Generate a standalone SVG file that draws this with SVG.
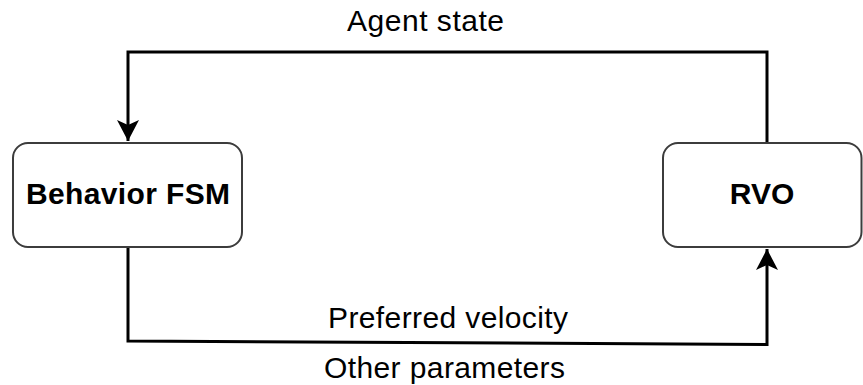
<svg xmlns="http://www.w3.org/2000/svg" width="863" height="385" viewBox="0 0 863 385">
  <defs>
    <style>
      .node rect { fill: #ffffff; stroke: #3c3c3c; stroke-width: 2; }
      .node text { font-family: "Liberation Sans", Arial, sans-serif; font-size: 30px; font-weight: bold; fill: #000; text-anchor: middle; }
      .edge { fill: none; stroke: #000; stroke-width: 3; }
      .label { font-family: "Liberation Sans", Arial, sans-serif; font-size: 30px; fill: #000; text-anchor: middle; }
    </style>
    <marker id="arrow" viewBox="0 0 22 22" refX="21" refY="11" markerWidth="22" markerHeight="22" markerUnits="userSpaceOnUse" orient="auto">
      <path d="M0,0 L21,11 L0,22 L5,11 Z" fill="#000"/>
    </marker>
  </defs>

  <!-- connectors -->
  <g id="connectors">
    <path class="edge" d="M767,143 L767,52 L128,52 L128,141" marker-end="url(#arrow)"/>
    <path class="edge" d="M128,247 L128,341 L767,344.5 L767,249" marker-end="url(#arrow)"/>
    <text class="label" x="425.5" y="31" textLength="157">Agent state</text>
    <text class="label" x="448" y="327.5" textLength="240">Preferred velocity</text>
    <text class="label" x="444.5" y="377.5" textLength="241">Other parameters</text>
  </g>

  <!-- nodes -->
  <g id="behavior-fsm" class="node">
    <rect x="13" y="143" width="229" height="104" rx="15" ry="15"/>
    <text x="128" y="204" textLength="204">Behavior FSM</text>
  </g>
  <g id="rvo" class="node">
    <rect x="663" y="143" width="198.5" height="104" rx="15" ry="15"/>
    <text x="762" y="204">RVO</text>
  </g>
</svg>
